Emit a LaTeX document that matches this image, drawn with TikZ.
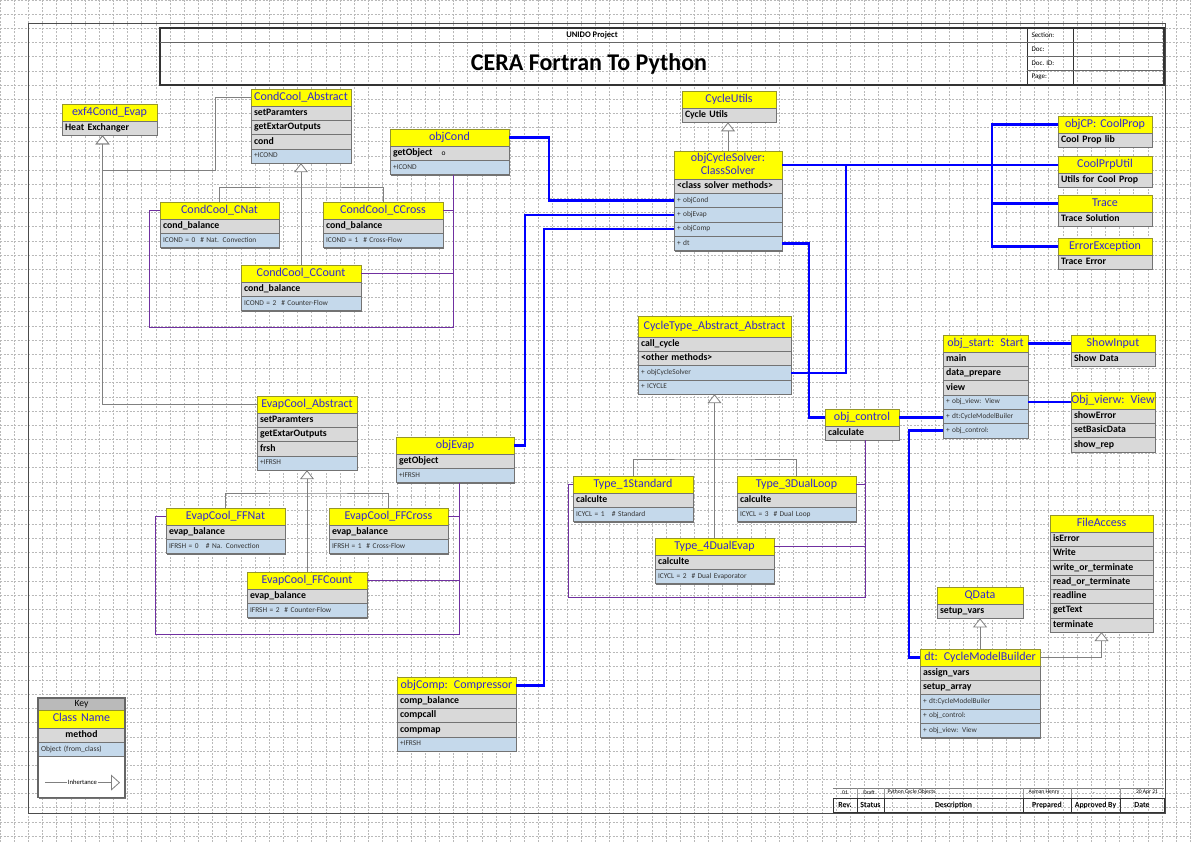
\documentclass[tikz,border=0pt]{standalone}
\usepackage{fontspec}
\setmainfont{Carlito}
\usepackage{tikz}
\usetikzlibrary{positioning,arrows.meta,shadows,calc}

\definecolor{hdyellow}{RGB}{255,255,0}
\definecolor{hdedge}{RGB}{150,150,40}
\definecolor{hdtext}{RGB}{52,40,205}
\definecolor{mtgray}{RGB}{217,217,217}
\definecolor{fldblue}{RGB}{197,217,235}
\definecolor{refblue}{RGB}{0,0,255}
\definecolor{ownpurple}{RGB}{112,48,160}
\definecolor{gridgray}{RGB}{185,185,185}
% centred class name, may spill over both sides
\newcommand\ctr[1]{\hbox to\linewidth{\hss#1\hss}}

\begin{document}
\begin{tikzpicture}[x=1pt,y=-1pt,
    uses/.style={draw=refblue,line width=2.4pt},
    holds/.style={draw=ownpurple,line width=0.9pt},
    isaline/.style={draw=gray,line width=0.8pt},
    isa/.style={isaline,-{Triangle[fill=white,length=9pt,width=14pt]}},
    cls/.style={nodes={text width=#1-6pt}}]
  \tikzstyle{cbox}=[rectangle,outer sep=0pt,inner xsep=3pt,inner ysep=0pt,draw=black!55,line width=0.6pt,
                    drop shadow={shadow xshift=0.9pt,shadow yshift=-1.1pt,opacity=1,fill=black!55}]
  \tikzstyle{hd}=[cbox,anchor=north west,fill=hdyellow,draw=hdedge,text=hdtext,align=center,
                  font=\fontsize{12}{12.5}\selectfont,minimum height=17pt,text height=8.4pt,text depth=2.6pt]
  \tikzstyle{mt}=[cbox,fill=mtgray,align=left,font=\fontsize{9.8}{10}\selectfont\bfseries,
                  minimum height=14.3pt,text height=6.8pt,text depth=2.2pt]
  \tikzstyle{fld}=[cbox,fill=fldblue,align=left,text=black!80,font=\fontsize{7.4}{8}\selectfont,
                   minimum height=14.3pt,text height=5.2pt,text depth=1.6pt]

  \useasboundingbox (0,0) rectangle (1191,842);
  \fill[white] (0,0) rectangle (1191,842);
  \draw[gridgray,line width=0.5pt,dash pattern=on 2pt off 1.5pt] (0,842) grid[step=14.17pt] (1191,0);
  \draw[black!70,line width=0.9pt] (28,23) rectangle (1165,813);

  % title block
  \draw[black!80,line width=1.2pt] (160,28) rectangle (1164,85);
  \draw[black!60,line width=0.5pt] (160,42) -- (1027,42);
  \draw[black!80,line width=0.8pt] (1027,28) -- (1027,85) (1073,28) -- (1073,85);
  \draw[black!60,line width=0.5pt] (1027,42) -- (1164,42) (1027,56) -- (1164,56) (1027,70) -- (1164,70);
  \node[font=\fontsize{8.5}{9}\selectfont\bfseries] (proj) at (592,35.5) {UNIDO Project};
  \node[font=\fontsize{24}{26}\selectfont\bfseries] (title) at (589,64) {CERA Fortran To Python};
  \node[anchor=west,font=\fontsize{7}{7.5}\selectfont] (sec) at (1028,35) {Section:};
  \node[anchor=west,font=\fontsize{7}{7.5}\selectfont] (doc) at (1028,49) {Doc:};
  \node[anchor=west,font=\fontsize{7}{7.5}\selectfont] (docid) at (1028,63) {Doc. ID:};
  \node[anchor=west,font=\fontsize{7}{7.5}\selectfont] (page) at (1028,77) {Page:};

  % revision table
  \draw[black!50,line width=0.4pt] (833,788) -- (1164,788);
  \draw[black!40,line width=0.4pt] (857,788) -- (857,798) (884,788) -- (884,798) (1023,788) -- (1023,798)
        (1071,788) -- (1071,798) (1120,788) -- (1120,798);
  \draw[black!80,line width=0.8pt] (833,798) rectangle (1164,812);
  \draw[black!80,line width=0.6pt] (857,798) -- (857,812) (884,798) -- (884,812) (1023,798) -- (1023,812)
        (1071,798) -- (1071,812) (1120,798) -- (1120,812);
  \node[font=\fontsize{7.8}{8}\selectfont\bfseries] (rev) at (845,805) {Rev.};
  \node[font=\fontsize{7.8}{8}\selectfont\bfseries] (status) at (870.5,805) {Status};
  \node[font=\fontsize{7.8}{8}\selectfont\bfseries] (descr) at (953.5,805) {Description};
  \node[font=\fontsize{7.8}{8}\selectfont\bfseries] (prep) at (1047,805) {Prepared};
  \node[font=\fontsize{7.8}{8}\selectfont\bfseries] (appr) at (1095.5,805) {Approved By};
  \node[font=\fontsize{7.8}{8}\selectfont\bfseries] (date) at (1142,805) {Date};
  \node[font=\fontsize{5.6}{6}\selectfont] (rev-1) at (845,792.5) {01};
  \node[font=\fontsize{5.6}{6}\selectfont] (status-1) at (869,792.5) {Draft};
  \node[anchor=west,font=\fontsize{5.6}{6}\selectfont] (descr-1) at (884,792.5) {Python Cycle Objects};
  \node[font=\fontsize{5.6}{6}\selectfont] (prep-1) at (1044,792.5) {Ayman Henry};
  \node[font=\fontsize{5.6}{6}\selectfont] (appr-1) at (1094,793.5) {-};
  \node[font=\fontsize{5.6}{6}\selectfont] (date-1) at (1147,792.5) {20 Apr 21};

  % condenser classes
  \begin{scope}[cls=95pt]
    \node[hd] (exf) at (62,104) {\ctr{exf4Cond\_Evap}};
    \node[mt,below=0pt of exf] (exf-1) {Heat Exchanger};
  \end{scope}
  \begin{scope}[cls=100pt]
    \node[hd] (condabs) at (251,89) {\ctr{CondCool\_Abstract}};
    \node[mt,below=0pt of condabs] (condabs-1) {setParamters};
    \node[mt,below=0pt of condabs-1] (condabs-2) {getExtarOutputs};
    \node[mt,below=0pt of condabs-2] (condabs-3) {cond};
    \node[fld,below=0pt of condabs-3] (condabs-4) {+ICOND};
  \end{scope}
  \begin{scope}[cls=119pt]
    \node[hd] (objcond) at (390,129) {\ctr{objCond}};
    \node[mt,below=0pt of objcond] (objcond-1) {getObject\hspace{9pt}{\mdseries\fontsize{7.5}{8}\selectfont o}};
    \node[fld,below=0pt of objcond-1] (objcond-2) {+ICOND};
    \node[hd] (cnat) at (160,202) {\ctr{CondCool\_CNat}};
    \node[mt,below=0pt of cnat] (cnat-1) {cond\_balance};
    \node[fld,below=0pt of cnat-1] (cnat-2) {ICOND = 0~~\# Nat. Convection};
  \end{scope}
  \begin{scope}[cls=120pt]
    \node[hd] (ccross) at (323,202) {\ctr{CondCool\_CCross}};
    \node[mt,below=0pt of ccross] (ccross-1) {cond\_balance};
    \node[fld,below=0pt of ccross-1] (ccross-2) {ICOND = 1~~\# Cross-Flow};
    \node[hd] (ccount) at (241,265) {\ctr{CondCool\_CCount}};
    \node[mt,below=0pt of ccount] (ccount-1) {cond\_balance};
    \node[fld,below=0pt of ccount-1] (ccount-2) {ICOND = 2~~\# Counter-Flow};
  \end{scope}

  % solver and helpers
  \begin{scope}[cls=94pt]
    \node[hd] (utils) at (682,91) {\ctr{CycleUtils}};
    \node[mt,below=0pt of utils] (utils-1) {Cycle Utils};
    \node[hd] (coolprop) at (1058,116) {\ctr{objCP: CoolProp}};
    \node[mt,below=0pt of coolprop] (coolprop-1) {Cool Prop lib};
    \node[hd] (cpu) at (1058,156) {\ctr{CoolPrpUtil}};
    \node[mt,below=0pt of cpu] (cpu-1) {Utils for Cool Prop};
    \node[hd] (trace) at (1058,195) {\ctr{Trace}};
    \node[mt,below=0pt of trace] (trace-1) {Trace Solution};
    \node[hd] (errex) at (1058,238) {\ctr{ErrorException}};
    \node[mt,below=0pt of errex] (errex-1) {Trace Error};
  \end{scope}
  \begin{scope}[cls=108pt]
    \node[hd,minimum height=28pt,text depth=14.6pt] (solver) at (674,151) {objCycleSolver:\\ClassSolver};
    \node[mt,below=0pt of solver] (solver-1) {<class solver methods>};
    \node[fld,below=0pt of solver-1] (solver-2) {+ objCond};
    \node[fld,below=0pt of solver-2] (solver-3) {+ objEvap};
    \node[fld,below=0pt of solver-3] (solver-4) {+ objComp};
    \node[fld,below=0pt of solver-4] (solver-5) {+ dt};
  \end{scope}

  % cycle types
  \begin{scope}[cls=153pt]
    \node[hd,minimum height=21pt] (cycabs) at (638,316) {\ctr{CycleType\_Abstract\_Abstract}};
    \node[mt,below=0pt of cycabs] (cycabs-1) {call\_cycle};
    \node[mt,below=0pt of cycabs-1] (cycabs-2) {<other methods>};
    \node[fld,below=0pt of cycabs-2] (cycabs-3) {+ objCycleSolver};
    \node[fld,below=0pt of cycabs-3] (cycabs-4) {+ ICYCLE};
  \end{scope}
  \begin{scope}[cls=74pt]
    \node[hd] (ctrl) at (825,409) {\ctr{obj\_control}};
    \node[mt,below=0pt of ctrl] (ctrl-1) {calculate};
  \end{scope}
  \begin{scope}[cls=120pt]
    \node[hd] (typeone) at (573,476) {\ctr{Type\_1Standard}};
    \node[mt,below=0pt of typeone] (typeone-1) {calculte};
    \node[fld,below=0pt of typeone-1] (typeone-2) {ICYCL = 1~~~\# Standard};
  \end{scope}
  \begin{scope}[cls=119pt]
    \node[hd] (typethree) at (737,476) {\ctr{Type\_3DualLoop}};
    \node[mt,below=0pt of typethree] (typethree-1) {calculte};
    \node[fld,below=0pt of typethree-1] (typethree-2) {ICYCL = 3~~\# Dual Loop};
    \node[hd] (typefour) at (655,538) {\ctr{Type\_4DualEvap}};
    \node[mt,below=0pt of typefour] (typefour-1) {calculte};
    \node[fld,below=0pt of typefour-1] (typefour-2) {ICYCL = 2~~\# Dual Evaporator};
  \end{scope}

  % evaporator classes
  \begin{scope}[cls=100pt]
    \node[hd] (evapabs) at (257,396) {\ctr{EvapCool\_Abstract}};
    \node[mt,below=0pt of evapabs] (evapabs-1) {setParamters};
    \node[mt,below=0pt of evapabs-1] (evapabs-2) {getExtarOutputs};
    \node[mt,below=0pt of evapabs-2] (evapabs-3) {frsh};
    \node[fld,below=0pt of evapabs-3] (evapabs-4) {+IFRSH};
  \end{scope}
  \begin{scope}[cls=118pt]
    \node[hd] (objevap) at (396,437) {\ctr{objEvap}};
    \node[mt,below=0pt of objevap] (objevap-1) {getObject};
    \node[fld,below=0pt of objevap-1] (objevap-2) {+IFRSH};
  \end{scope}
  \begin{scope}[cls=119pt]
    \node[hd] (ffnat) at (166,508) {\ctr{EvapCool\_FFNat}};
    \node[mt,below=0pt of ffnat] (ffnat-1) {evap\_balance};
    \node[fld,below=0pt of ffnat-1] (ffnat-2) {IFRSH = 0~~~\# Na. Convection};
    \node[hd] (ffcross) at (329,508) {\ctr{EvapCool\_FFCross}};
    \node[mt,below=0pt of ffcross] (ffcross-1) {evap\_balance};
    \node[fld,below=0pt of ffcross-1] (ffcross-2) {IFRSH = 1~~\# Cross-Flow};
    \node[hd] (objcomp) at (397,677) {\ctr{objComp: Compressor}};
    \node[mt,below=0pt of objcomp] (objcomp-1) {comp\_balance};
    \node[mt,below=0pt of objcomp-1] (objcomp-2) {compcall};
    \node[mt,below=0pt of objcomp-2] (objcomp-3) {compmap};
    \node[fld,below=0pt of objcomp-3] (objcomp-4) {+IFRSH};
  \end{scope}
  \begin{scope}[cls=120pt]
    \node[hd] (ffcount) at (247,572) {\ctr{EvapCool\_FFCount}};
    \node[mt,below=0pt of ffcount] (ffcount-1) {evap\_balance};
    \node[fld,below=0pt of ffcount-1] (ffcount-2) {IFRSH = 2~~\# Counter-Flow};
  \end{scope}

  % start, view and data
  \begin{scope}[cls=85pt]
    \node[hd] (start) at (943,335) {\ctr{obj\_start: Start}};
    \node[mt,below=0pt of start] (start-1) {main};
    \node[mt,below=0pt of start-1] (start-2) {data\_prepare};
    \node[mt,below=0pt of start-2] (start-3) {view};
    \node[fld,below=0pt of start-3] (start-4) {+ obj\_view: View};
    \node[fld,below=0pt of start-4] (start-5) {+ dt:CycleModelBuiler};
    \node[fld,below=0pt of start-5] (start-6) {+ obj\_control:};
  \end{scope}
  \begin{scope}[cls=84pt]
    \node[hd] (showin) at (1071,335) {\ctr{ShowInput}};
    \node[mt,below=0pt of showin] (showin-1) {Show Data};
    \node[hd] (view) at (1071,392) {\ctr{Obj\_vierw: View}};
    \node[mt,below=0pt of view] (view-1) {showError};
    \node[mt,below=0pt of view-1] (view-2) {setBasicData};
    \node[mt,below=0pt of view-2] (view-3) {show\_rep};
  \end{scope}
  \begin{scope}[cls=86pt]
    \node[hd] (qdata) at (937,587) {\ctr{QData}};
    \node[mt,below=0pt of qdata] (qdata-1) {setup\_vars};
  \end{scope}
  \begin{scope}[cls=103pt]
    \node[hd] (fileacc) at (1050,515) {\ctr{FileAccess}};
    \node[mt,below=0pt of fileacc] (fileacc-1) {isError};
    \node[mt,below=0pt of fileacc-1] (fileacc-2) {Write};
    \node[mt,below=0pt of fileacc-2] (fileacc-3) {write\_or\_terminate};
    \node[mt,below=0pt of fileacc-3] (fileacc-4) {read\_or\_terminate};
    \node[mt,below=0pt of fileacc-4] (fileacc-5) {readline};
    \node[mt,below=0pt of fileacc-5] (fileacc-6) {getText};
    \node[mt,below=0pt of fileacc-6] (fileacc-7) {terminate};
  \end{scope}
  \begin{scope}[cls=120pt]
    \node[hd] (dt) at (920,649) {\ctr{dt: CycleModelBuilder}};
    \node[mt,below=0pt of dt] (dt-1) {assign\_vars};
    \node[mt,below=0pt of dt-1] (dt-2) {setup\_array};
    \node[fld,below=0pt of dt-2] (dt-3) {+ dt:CycleModelBuiler};
    \node[fld,below=0pt of dt-3] (dt-4) {+ obj\_control:};
    \node[fld,below=0pt of dt-4] (dt-5) {+ obj\_view: View};
  \end{scope}

  % key
  \begin{scope}[cls=87pt]
    \node[hd,fill=black!27,draw=black!60,text=black,minimum height=12pt,text height=6.6pt,text depth=1.8pt,
          font=\fontsize{9.6}{10}\selectfont] (key) at (38,698) {\ctr{Key}};
    \node[hd,minimum height=18pt,below=0pt of key] (key-1) {\ctr{Class Name}};
    \node[mt,align=center,below=0pt of key-1] (key-2) {method};
    \node[fld,font=\fontsize{7.6}{8}\selectfont,below=0pt of key-2] (key-3) {Object (from\_class)};
    \node[cbox,fill=white,minimum height=41pt,below=0pt of key-3] (key-4) {};
  \end{scope}
  \draw[black!60,line width=1.2pt] (key.north west) rectangle (key-4.south east);
  \draw[isaline,-{Triangle[fill=white,length=9pt,width=16pt]}] ([xshift=7pt,yshift=-5.5pt]key-4.west)
    -- ([xshift=-5pt,yshift=-5.5pt]key-4.east)
    node[midway,fill=white,inner sep=1pt,font=\fontsize{6.6}{7}\selectfont] (inh) {Inhertance};

  % inheritance
  \coordinate (condjoin) at ($(cnat.north -| ccount.north)+(0,-15)$);
  \coordinate (evapjoin) at ($(ffnat.north -| ffcount.north)+(0,-15)$);
  \coordinate (typejoin) at ($(typeone.north -| typefour.north)+(0,-17)$);
  \draw[isa] (ccount.north) -- (condabs-4.south);
  \draw[isaline] (cnat.north) |- (condjoin) -| (ccross.north);
  \draw[isa] (ffcount.north) -- (evapabs-4.south);
  \draw[isaline] (ffnat.north) |- (evapjoin) -| (ffcross.north);
  \draw[isa] (typefour.north) -- (cycabs-4.south);
  \draw[isaline] (typeone.north) |- (typejoin) -| (typethree.north);
  \draw[isa] (condabs.west) -- ++(-36,0) -- ++(0,73) -| ([xshift=-7pt]exf-1.south);
  \draw[isa] (evapabs.west) -| ([xshift=-7pt]exf-1.south);
  \draw[isa] (solver.north) -- (solver.north |- utils-1.south);
  \draw[isa] (dt.north) -- (qdata-1.south);
  \draw[isa] (dt.east) -| (fileacc-7.south);

  % owned objects
  \coordinate (condbus) at ([xshift=4pt]objcond-2.south);
  \coordinate (evapbus) at ([xshift=4pt]objevap-2.south);
  \coordinate (ctrlbus) at ([xshift=3pt]ctrl-1.south);
  \draw[holds] (condbus) -- ++(0,153) -| ([xshift=-11pt]cnat.west) -- (cnat.west);
  \draw[holds] (ccross.east) -- (ccross.east -| condbus);
  \draw[holds] (ccount.east) -- (ccount.east -| condbus);
  \draw[holds] (evapbus) -- ++(0,152) -| ([xshift=-11pt]ffnat.west) -- (ffnat.west);
  \draw[holds] (ffcross.east) -- (ffcross.east -| evapbus);
  \draw[holds] (ffcount.east) -- (ffcount.east -| evapbus);
  \draw[holds] (ctrlbus) -- ++(0,157) -| ([xshift=-5pt]typeone.west) -- (typeone.west);
  \draw[holds] (typethree.east) -- (typethree.east -| ctrlbus);
  \draw[holds] (typefour.east) -- (typefour.east -| ctrlbus);

  % object references
  \draw[uses] (objcond.east) -- ++(40,0) |- (solver-2.west);
  \draw[uses] (objevap.east) -- ++(11,0) |- (solver-3.west);
  \draw[uses] (objcomp.east) -- ++(28,0) |- (solver-4.west);
  \draw[uses] (solver-5.east) -- ++(27,0) |- (ctrl.west);
  \draw[uses] (cycabs-3.east) -- ++(55,0) |- (solver.east);
  \draw[uses] (solver.east) -- (solver.east -| cpu.west);
  \draw[uses] (coolprop.west) -- ++(-66,0) |- (errex.west);
  \draw[uses] (trace.west) -- ++(-66,0);
  \draw[uses] (ctrl.east) -- (ctrl.east -| start-5.west);
  \draw[uses] (start-6.west) -- ++(-34,0) |- (dt.west);
  \draw[uses] (start.east) -- (showin.west);
  \draw[uses] (start-4.east) -- (start-4.east -| view.west);
\end{tikzpicture}
\end{document}
